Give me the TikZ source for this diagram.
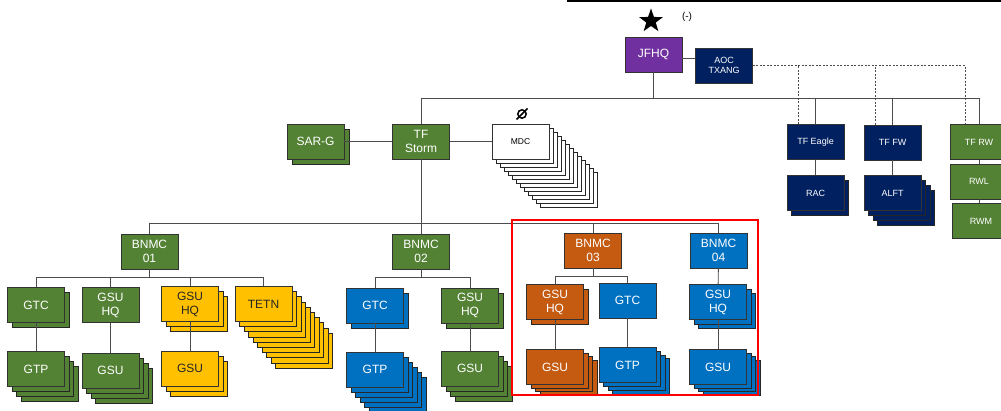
\documentclass[tikz,border=0pt]{standalone}
\usepackage{fontspec}
\setmainfont{Liberation Sans}
\usetikzlibrary{shapes.geometric}

\definecolor{jfhqpurple}{HTML}{7030A0}
\definecolor{navy}{HTML}{002060}
\definecolor{armygreen}{HTML}{548235}
\definecolor{rust}{HTML}{C55A11}
\definecolor{azure}{HTML}{0070C0}
\definecolor{amber}{HTML}{FFC000}

% copies behind a front box: centre x, centre y, count, fill, step x, step y
\newcommand\unitstack[6]{%
  \foreach \k in {#3,...,1}{%
    \filldraw[copybox, fill=#4] ({#1-28.5+#5*\k},{#2-17.5+#6*\k}) rectangle +(57,35);}}

\begin{document}
\begin{tikzpicture}[x=1pt, y=-1pt,
  link/.style={draw=black!70, line width=0.9pt},
  dashlink/.style={draw=black!70, line width=0.9pt, dash pattern=on 2pt off 1.5pt},
  unitbox/.style={draw=black!80, line width=0.8pt, minimum width=57pt, minimum height=35pt,
    inner sep=1pt, align=center, text=white, font=\fontsize{12}{14}\selectfont},
  smallbox/.style={unitbox, font=\fontsize{9}{10.5}\selectfont},
  copybox/.style={draw=black!85, line width=0.8pt},
  greenbox/.style={unitbox, fill=armygreen},
  bluebox/.style={unitbox, fill=azure},
  rustbox/.style={unitbox, fill=rust},
  amberbox/.style={unitbox, fill=amber, text=black!85},
  navybox/.style={smallbox, fill=navy},
  greensmall/.style={smallbox, fill=armygreen}]
  \useasboundingbox (0,0) rectangle (1001,411);
  \clip (0,0) rectangle (1001,411);

  % top rule and headquarters
  \coordinate (rulel) at (567,1);
  \coordinate (ruler) at (1001,1);
  \draw[line width=1.6pt] (rulel) -- (ruler);
  \node[star, star points=5, star point ratio=2.5, fill=black, minimum size=25pt, inner sep=0pt] (star) at (651,21) {};
  \node[font=\fontsize{10}{11}\selectfont] (mark) at (687,17) {(-)};
  \node[unitbox, fill=jfhqpurple] (jfhq) at (653.5,54.5) {JFHQ};
  \node[navybox, font=\fontsize{9}{10}\selectfont] (aoc) at (724,65.5) {AOC\\TXANG};

  % air task forces
  \node[navybox] (eagle) at (815.5,142) {TF Eagle};
  \unitstack{815.5}{193}{1}{navy}{4.5}{5}
  \node[navybox] (rac) at (815.5,193) {RAC};
  \node[navybox] (fw) at (892.5,142.5) {TF FW};
  \unitstack{892.5}{193}{3}{navy}{4.5}{5}
  \node[navybox] (alft) at (892.5,193) {ALFT};
  \node[greensmall] (rw) at (979,142) {TF RW};
  \node[greensmall] (rwl) at (979,181.5) {RWL};
  \node[greensmall] (rwm) at (981,221) {RWM};

  % TF Storm row
  \unitstack{315.5}{141.5}{1}{armygreen}{5}{5}
  \node[greenbox] (sarg) at (315.5,141.5) {SAR-G};
  \node[greenbox] (storm) at (421,141.5) {TF\\Storm};
  \unitstack{520.5}{141.5}{12}{white}{4}{4}
  \node[unitbox, fill=white, text=black, font=\fontsize{8.5}{9}\selectfont] (mdc) at (520.5,141.5) {MDC};
  \coordinate (nil) at (522,114);
  \draw[line width=1.5pt] (nil) circle (4.2pt);
  \draw[line width=1.5pt] ([shift={(-5.5,5.5)}]nil) -- ([shift={(5.5,-5.5)}]nil);

  % battalions
  \node[greenbox] (b1) at (149.5,251.5) {BNMC\\01};
  \node[greenbox] (b2) at (421,251.5) {BNMC\\02};
  \node[rustbox] (b3) at (593,250.5) {BNMC\\03};
  \node[bluebox] (b4) at (718.5,250.5) {BNMC\\04};

  % BNMC 01
  \unitstack{36}{305}{1}{armygreen}{4.5}{5}
  \node[greenbox] (gtc1) at (36,305) {GTC};
  \unitstack{36}{369}{3}{armygreen}{4.5}{5}
  \node[greenbox] (gtp1) at (36,369) {GTP};
  \node[greenbox] (gsuhq1) at (110.5,305) {GSU\\HQ};
  \unitstack{110.5}{370.5}{3}{armygreen}{4.5}{5}
  \node[greenbox] (gsu1) at (110.5,370.5) {GSU};
  \unitstack{190}{304}{2}{amber}{4.5}{5}
  \node[amberbox] (gsuhqy) at (190,304) {GSU\\HQ};
  \unitstack{190}{368.5}{2}{amber}{4.5}{5}
  \node[amberbox] (gsuy) at (190,368.5) {GSU};
  \unitstack{263.5}{304}{9}{amber}{4.5}{5.2}
  \node[amberbox] (tetn) at (263.5,304) {TETN};

  % BNMC 02
  \unitstack{375}{305.5}{1}{azure}{4.5}{5}
  \node[bluebox] (gtc2) at (375,305.5) {GTC};
  \unitstack{375}{369.5}{5}{azure}{4.5}{5}
  \node[bluebox] (gtp2) at (375,369.5) {GTP};
  \unitstack{470}{305.5}{1}{armygreen}{4.5}{5}
  \node[greenbox] (gsuhq2) at (470,305.5) {GSU\\HQ};
  \unitstack{470}{368.5}{3}{armygreen}{4.5}{5}
  \node[greenbox] (gsu2) at (470,368.5) {GSU};

  % BNMC 03
  \unitstack{555}{302}{1}{rust}{4.5}{5}
  \node[rustbox] (gsuhq3) at (555,302) {GSU\\HQ};
  \unitstack{555}{367}{3}{rust}{4.5}{3.5}
  \node[rustbox] (gsu3) at (555,367) {GSU};
  \node[bluebox] (gtc3) at (627.5,300.5) {GTC};
  \unitstack{627.5}{365}{3}{azure}{4.5}{3.8}
  \node[bluebox] (gtp3) at (627.5,365) {GTP};

  % BNMC 04
  \unitstack{718}{302}{2}{azure}{4.5}{4.5}
  \node[bluebox] (gsuhq4) at (718,302) {GSU\\HQ};
  \unitstack{718}{367}{3}{azure}{4.5}{3.5}
  \node[bluebox] (gsu4) at (718,367) {GSU};

  % connectors
  \coordinate (bustop) at (0,98);
  \coordinate (busbn) at (0,223);
  \coordinate (bus1) at (0,277);
  \draw[link] (jfhq.east |- 0,58) -- (aoc.west |- 0,58);
  \draw[link] (jfhq.south) -- (jfhq.south |- bustop);
  \draw[link] (storm.north) -- (storm.north |- bustop) -| (rw.north);
  \draw[link] (eagle.north) -- (eagle.north |- bustop);
  \draw[link] (fw.north) -- (fw.north |- bustop);
  \draw[dashlink] (aoc.east) -| ([xshift=-14pt]rw.north);
  \draw[dashlink] ([xshift=-17.5pt]eagle.north) -- ([xshift=-17.5pt]eagle.north |- aoc.east);
  \draw[dashlink] ([xshift=-17.5pt]fw.north) -- ([xshift=-17.5pt]fw.north |- aoc.east);
  \draw[link] (eagle) -- (rac);
  \draw[link] (fw) -- (alft);
  \draw[link] (rw) -- (rwl);
  \draw[link] (rwl.south) -- (rwl.south |- rwm.north);
  \draw[link] (sarg) -- (storm);
  \draw[link] (storm) -- (mdc);
  \draw[link] (storm.south) -- (b2.north);
  \draw[link] (b1.north) -- (b1.north |- busbn) -| (b4.north);
  \draw[link] (b3.north) -- (b3.north |- busbn);
  \draw[link] (b1.south) -- (b1.south |- bus1);
  \draw[link] (gtc1.north) -- (gtc1.north |- bus1) -- (tetn.north |- bus1) -- (tetn.north);
  \draw[link] (gsuhq1.north) -- (gsuhq1.north |- bus1);
  \draw[link] (gsuhqy.north) -- (gsuhqy.north |- bus1);
  \draw[link] (gtc1) -- (gtp1);
  \draw[link] (gsuhq1) -- (gsu1);
  \draw[link] (gsuhqy) -- (gsuy);
  \draw[link] (b2.south) -- (b2.south |- bus1);
  \draw[link] (gtc2.north) -- (gtc2.north |- bus1) -- (gsuhq2.north |- bus1) -- (gsuhq2.north);
  \draw[link] (gtc2) -- (gtp2);
  \draw[link] (gsuhq2) -- (gsu2);
  \draw[link] (b3.south) -- (b3.south |- 0,276);
  \draw[link] (gsuhq3.north) -- (gsuhq3.north |- 0,276) -- (gtc3.north |- 0,276) -- (gtc3.north);
  \draw[link] (gsuhq3) -- (gsu3);
  \draw[link] (gtc3) -- (gtp3);
  \draw[link] (b4) -- (gsuhq4);
  \draw[link] (gsuhq4) -- (gsu4);

  % highlighted battalions
  \draw[red, line width=1.8pt] (512,220) rectangle (758,395);
\end{tikzpicture}
\end{document}
